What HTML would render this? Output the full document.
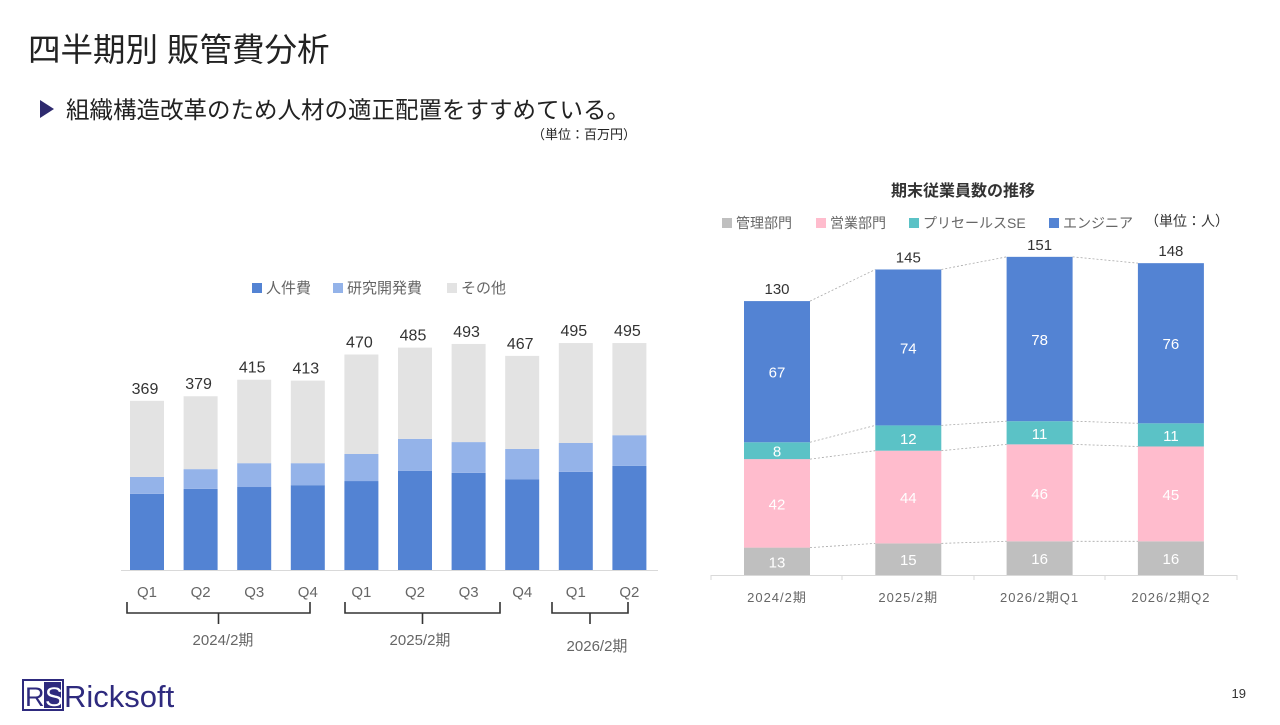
<!DOCTYPE html>
<html><head><meta charset="utf-8">
<style>
body{margin:0;width:1280px;height:720px;background:#fff;overflow:hidden;font-family:"Liberation Sans","Noto Sans CJK JP",sans-serif;}
svg text{font-family:"Liberation Sans","Noto Sans CJK JP",sans-serif;}
</style></head>
<body>
<svg width="1280" height="720" viewBox="0 0 1280 720" xmlns="http://www.w3.org/2000/svg">
<text x="28" y="61" font-size="32.5" fill="#222">四半期別 販管費分析</text>
<path d="M40 100 L54 109 L40 118 Z" fill="#2e2a6e"/>
<text x="66" y="118" font-size="23.5" fill="#222">組織構造改革のため人材の適正配置をすすめている。</text>
<text x="636" y="139" font-size="13" fill="#222" text-anchor="end">（単位：百万円）</text>

<g id="left"></g>
<g id="right"></g>

<g>
<rect x="23" y="680" width="40" height="30" fill="#fff" stroke="#2e2a7e" stroke-width="2"/>
<rect x="44" y="682" width="17" height="26" fill="#2e2a7e"/>
<text x="25" y="706" font-size="27" fill="#2e2a7e">R</text>
<text x="45" y="706" font-size="27" fill="#fff">S</text>
<text x="64" y="707" font-size="31" fill="#2e2a7e">Ricksoft</text>
</g>
<text x="1246" y="698" font-size="13" fill="#333" text-anchor="end">19</text>
</svg>
<script>
const NS="http://www.w3.org/2000/svg";
function mk(parent,tag,attrs,txt){const e=document.createElementNS(NS,tag);for(const k in attrs)e.setAttribute(k,attrs[k]);if(txt!==undefined)e.textContent=txt;parent.appendChild(e);return e;}

// Left chart data
const qLabels=["Q1","Q2","Q3","Q4","Q1","Q2","Q3","Q4","Q1","Q2"];
const personnel=[166,177,181,185,194,216,212,198,214,227];
const research=[37,43,52,48,59,70,67,66,63,67];
const totals=[369,379,415,413,470,485,493,467,495,495];
const leftSeries=["人件費","研究開発費","その他"];
const leftColors=["#5383d3","#94b3e9","#e3e3e3"];

const L=document.getElementById('left');
const lBase=570, lScale=0.4585;
const lx=i=>147+i*53.6;
const ly=v=>lBase-v*lScale;
totals.forEach((t,i)=>{
  const other=t-personnel[i]-research[i];
  const vals=[personnel[i],research[i],other];
  let acc=0;
  vals.forEach((v,s)=>{
    const r=mk(L,'rect',{x:lx(i)-17,y:ly(acc+v),width:34,height:v*lScale,fill:leftColors[s]});
    
    
    acc+=v;
  });
  const tl=mk(L,'text',{x:lx(i)-2,y:ly(t)-7,'font-size':16,fill:'#333','text-anchor':'middle'},String(t));
  
  
  const xl=mk(L,'text',{x:lx(i),y:597,'font-size':15,fill:'#666','text-anchor':'middle'},qLabels[i]);
  
  
});
const ax=mk(L,'line',{x1:121,y1:570.5,x2:658,y2:570.5,stroke:'#d9d9d9'});


leftSeries.forEach((n,s)=>{
  const x=[252,333,447][s];
  const g=mk(L,'g',{});
  
  
  mk(g,'rect',{x:x,y:283,width:10,height:10,fill:leftColors[s]});
  mk(g,'text',{x:x+14,y:293,'font-size':15,fill:'#666'},n);
});
const braces=[[127,310,"2024/2期",223,645],[345,500,"2025/2期",420,645],[552,628,"2026/2期",597,651]];
braces.forEach(b=>{
  const [x1,x2,lab,tx,ty]=b;const m=(x1+x2)/2;
  const p=mk(L,'path',{d:`M${x1} 602 L${x1} 613 L${x2} 613 L${x2} 602 M${m} 613 L${m} 624`,fill:'none',stroke:'#333','stroke-width':1.6});
  
  
  const t=mk(L,'text',{x:tx,y:ty,'font-size':15,fill:'#666','text-anchor':'middle'},lab);
  
  
});

// Right chart data
const periods=["2024/2期","2025/2期","2026/2期Q1","2026/2期Q2"];
const admin=[13,15,16,16];
const sales=[42,44,46,45];
const presales=[8,12,11,11];
const engineers=[67,74,78,76];
const headTotals=[130,145,151,148];
const rSeries=["管理部門","営業部門","プリセールスSE","エンジニア"];
const rColors=["#bfbfbf","#ffbccd","#5bc2c6","#5383d3"];

const R=document.getElementById('right');
const rBase=575, rScale=2.107;
const rx=i=>777+i*131.3;
const ry=v=>rBase-v*rScale;
const ser=[admin,sales,presales,engineers];
periods.forEach((p,i)=>{
  let acc=0;
  ser.forEach((arr,s)=>{
    const v=arr[i];
    const r=mk(R,'rect',{x:rx(i)-33,y:ry(acc+v),width:66,height:v*rScale,fill:rColors[s]});
    
    
    const t=mk(R,'text',{x:rx(i),y:ry(acc+v/2)+6,'font-size':15,fill:'#fff','text-anchor':'middle'},String(v));
    
    
    acc+=v;
  });
  const tl=mk(R,'text',{x:rx(i),y:ry(headTotals[i])-7,'font-size':15,fill:'#333','text-anchor':'middle'},String(headTotals[i]));
  
  
  const xl=mk(R,'text',{x:rx(i),y:602,'font-size':13,fill:'#666','text-anchor':'middle','letter-spacing':'1'},p);
  
  
  if(i<periods.length-1){
    let a1=0,a2=0;
    ser.forEach(arr=>{a1+=arr[i];a2+=arr[i+1];
      const l=mk(R,'line',{x1:rx(i)+33,y1:ry(a1),x2:rx(i+1)-33,y2:ry(a2),stroke:'#aaa','stroke-width':0.8,'stroke-dasharray':'2,2'});
      
      
    });
  }
});
const rax=mk(R,'line',{x1:711,y1:575.5,x2:1237,y2:575.5,stroke:'#d9d9d9'});


[711,842,974,1105,1237].forEach(x=>{const t=mk(R,'line',{x1:x,y1:575,x2:x,y2:580,stroke:'#d9d9d9'});
  
  });
const rt=mk(R,'text',{x:963,y:196,'font-size':16,'font-weight':'bold',fill:'#333','text-anchor':'middle'},"期末従業員数の推移");


rSeries.forEach((n,s)=>{
  const x=[722,816,909,1049][s];
  const g=mk(R,'g',{});
  
  
  mk(g,'rect',{x:x,y:218,width:10,height:10,fill:rColors[s]});
  mk(g,'text',{x:x+14,y:228,'font-size':14,fill:'#666'},n);
});
const ru=mk(R,'text',{x:1145,y:226,'font-size':14,fill:'#333'},"（単位：人）");


</script>
</body></html>
